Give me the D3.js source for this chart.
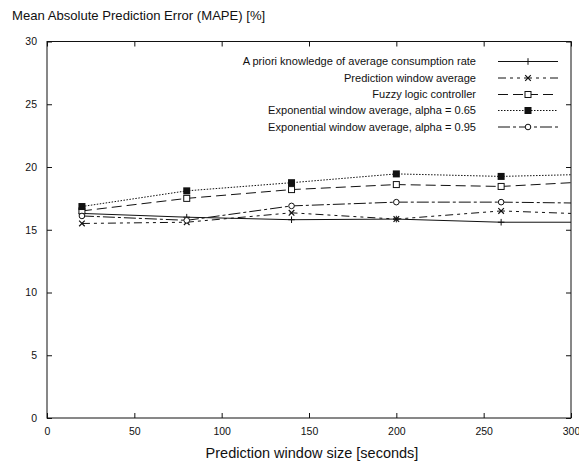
<!DOCTYPE html>
<html>
<head>
<meta charset="utf-8">
<script src="https://cdn.jsdelivr.net/npm/d3@7"></script>
<style>
  html, body { margin: 0; padding: 0; background: #fff; }
  svg { display: block; font-family: "Liberation Sans", Arial, Helvetica, sans-serif; }
</style>
</head>
<body>
<svg id="chart" width="579" height="464"></svg>
<script>
// Prediction window sizes (seconds); the last point lies past the axis end and is clipped
const windowSizes = [20, 80, 140, 200, 260, 320];

// MAPE [%] for each prediction method
const aprioriValues     = [16.3, 16.0, 15.8, 15.85, 15.6, 15.6];
const windowAvgValues   = [15.5, 15.6, 16.35, 15.85, 16.5, 16.2];
const fuzzyValues       = [16.5, 17.5, 18.2, 18.6, 18.45, 18.9];
const expAlpha065Values = [16.85, 18.1, 18.75, 19.45, 19.25, 19.45];
const expAlpha095Values = [16.1, 15.75, 16.9, 17.2, 17.2, 17.1];

const seriesNames = [
  "A priori knowledge of average consumption rate",
  "Prediction window average",
  "Fuzzy logic controller",
  "Exponential window average, alpha = 0.65",
  "Exponential window average, alpha = 0.95"
];

const xTicks = [0, 50, 100, 150, 200, 250, 300];
const yTicks = [0, 5, 10, 15, 20, 25, 30];

const titleText = "Mean Absolute Prediction Error (MAPE) [%]";
const xAxisTitle = "Prediction window size [seconds]";

const series = [
  { name: seriesNames[0], values: aprioriValues,     dash: null,          marker: "plus" },
  { name: seriesNames[1], values: windowAvgValues,   dash: "8,4,3,4,3,4", marker: "cross" },
  { name: seriesNames[2], values: fuzzyValues,       dash: "10,5",        marker: "openSquare" },
  { name: seriesNames[3], values: expAlpha065Values, dash: "1.5,1.5",     marker: "filledSquare" },
  { name: seriesNames[4], values: expAlpha095Values, dash: "12,3,3,3",    marker: "openCircle" }
];

const svg = d3.select("#chart");
const plotLeft = 47, plotRight = 571, plotTop = 41.5, plotBottom = 418;

const x = d3.scaleLinear().domain([0, 300]).range([plotLeft, plotRight]);
const y = d3.scaleLinear().domain([0, 30]).range([plotBottom, plotTop]);

const ink = "#111";
const tickLen = 5;

// Clip for data lines
svg.append("defs").append("clipPath").attr("id", "plotClip")
  .append("rect").attr("x", plotLeft).attr("y", plotTop)
  .attr("width", plotRight - plotLeft).attr("height", plotBottom - plotTop);

// Axes: ticks pointing inward on all four sides
const xAxisBottom = d3.axisBottom(x).tickValues(xTicks).tickSizeInner(-tickLen).tickSizeOuter(0).tickPadding(10);
const xAxisTop = d3.axisTop(x).tickValues(xTicks).tickSizeInner(-tickLen).tickSizeOuter(0).tickFormat("");
const yAxisLeft = d3.axisLeft(y).tickValues(yTicks).tickSizeInner(-tickLen).tickSizeOuter(0).tickPadding(10);
const yAxisRight = d3.axisRight(y).tickValues(yTicks).tickSizeInner(-tickLen).tickSizeOuter(0).tickFormat("");

function styleAxis(g) {
  g.select(".domain").remove();
  g.selectAll(".tick line").attr("stroke", ink);
  g.selectAll(".tick text").attr("fill", ink).style("font-size", "10.5px")
    .style("font-family", "'Liberation Sans', Arial, sans-serif");
}

svg.append("g").attr("transform", `translate(0,${plotBottom})`).call(xAxisBottom).call(styleAxis);
svg.append("g").attr("transform", `translate(0,${plotTop})`).call(xAxisTop).call(styleAxis);
svg.append("g").attr("transform", `translate(${plotLeft},0)`).call(yAxisLeft).call(styleAxis);
svg.append("g").attr("transform", `translate(${plotRight},0)`).call(yAxisRight).call(styleAxis);

// Plot border
svg.append("rect")
  .attr("x", plotLeft).attr("y", plotTop)
  .attr("width", plotRight - plotLeft).attr("height", plotBottom - plotTop)
  .attr("fill", "none").attr("stroke", ink).attr("stroke-width", 1);

// Title and axis label
svg.append("text").attr("x", 12).attr("y", 19.5).text(titleText)
  .attr("fill", ink).style("font-size", "13.1px");
svg.append("text").attr("x", 312).attr("y", 457.5).attr("text-anchor", "middle")
  .text(xAxisTitle).attr("fill", ink).style("font-size", "14.5px");

// Marker drawing
function drawMarker(g, kind, cx, cy) {
  const s = 3.3;
  if (kind === "plus") {
    g.append("path").attr("d", `M${cx - s},${cy}H${cx + s}M${cx},${cy - s}V${cy + s}`)
      .attr("stroke", ink).attr("stroke-width", 1).attr("fill", "none");
  } else if (kind === "cross") {
    const c = 2.8;
    g.append("path").attr("d", `M${cx - c},${cy - c}L${cx + c},${cy + c}M${cx - c},${cy + c}L${cx + c},${cy - c}`)
      .attr("stroke", ink).attr("stroke-width", 1.2).attr("fill", "none");
  } else if (kind === "openSquare") {
    g.append("rect").attr("x", cx - 3).attr("y", cy - 3).attr("width", 6).attr("height", 6)
      .attr("fill", "#fff").attr("stroke", ink).attr("stroke-width", 1);
  } else if (kind === "filledSquare") {
    g.append("rect").attr("x", cx - 3.5).attr("y", cy - 3.5).attr("width", 7).attr("height", 7)
      .attr("fill", ink).attr("stroke", "none");
  } else if (kind === "openCircle") {
    g.append("circle").attr("cx", cx).attr("cy", cy).attr("r", 2.8)
      .attr("fill", "#fff").attr("stroke", ink).attr("stroke-width", 1);
  }
}

const line = d3.line().x((d, i) => x(windowSizes[i])).y(d => y(d));

const plotG = svg.append("g").attr("clip-path", "url(#plotClip)");
series.forEach(s => {
  plotG.append("path").datum(s.values).attr("d", line)
    .attr("fill", "none").attr("stroke", ink).attr("stroke-width", 1)
    .attr("stroke-dasharray", s.dash);
});
series.forEach(s => {
  const g = svg.append("g");
  s.values.forEach((v, i) => {
    if (windowSizes[i] <= 300) drawMarker(g, s.marker, x(windowSizes[i]), y(v));
  });
});

// Legend
const legendRows = [61.5, 78, 94.5, 110.5, 127];
series.forEach((s, i) => {
  const ly = legendRows[i];
  svg.append("text").attr("x", 476).attr("y", ly).attr("dy", "0.35em").attr("text-anchor", "end")
    .text(s.name).attr("fill", ink).style("font-size", "11.05px");
  svg.append("path").attr("d", `M498,${ly}H558`).attr("stroke", ink).attr("stroke-width", 1)
    .attr("fill", "none").attr("stroke-dasharray", s.dash);
  drawMarker(svg.append("g"), s.marker, 528, ly);
});
</script>
</body>
</html>
